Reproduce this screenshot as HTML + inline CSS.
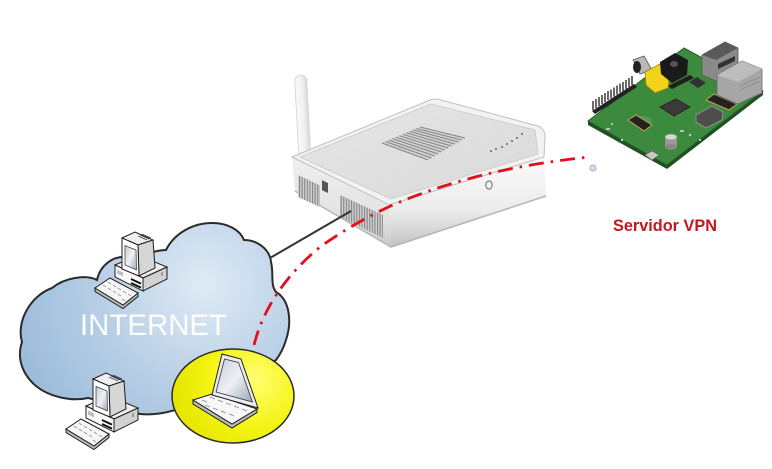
<!DOCTYPE html>
<html><head><meta charset="utf-8"><style>
html,body{margin:0;padding:0;background:#fff;}
svg{display:block;}
</style></head><body>
<svg width="772" height="469" viewBox="0 0 772 469" xmlns="http://www.w3.org/2000/svg">
<defs>
  <radialGradient id="cloudG" cx="205" cy="285" r="210" gradientUnits="userSpaceOnUse">
    <stop offset="0" stop-color="#e0ebf5"/>
    <stop offset="0.45" stop-color="#bbd1e7"/>
    <stop offset="1" stop-color="#98b9da"/>
  </radialGradient>
  <filter id="blur6" x="-50%" y="-50%" width="200%" height="200%"><feGaussianBlur stdDeviation="6"/></filter>
  <radialGradient id="yel" cx="255" cy="380" r="80" gradientUnits="userSpaceOnUse">
    <stop offset="0" stop-color="#ffff70"/>
    <stop offset="0.6" stop-color="#f4f414"/>
    <stop offset="1" stop-color="#e6e600"/>
  </radialGradient>
  <linearGradient id="scr" x1="0" y1="0" x2="1" y2="1">
    <stop offset="0" stop-color="#c4ccd6"/>
    <stop offset="0.5" stop-color="#eef1f5"/>
    <stop offset="1" stop-color="#9aa6b4"/>
  </linearGradient>
  <linearGradient id="ant" x1="0" y1="0" x2="1" y2="0">
    <stop offset="0" stop-color="#fafafa"/>
    <stop offset="0.6" stop-color="#f0f0f0"/>
    <stop offset="1" stop-color="#d8d8d8"/>
  </linearGradient>
  <linearGradient id="faceL" x1="0" y1="0" x2="0" y2="1">
    <stop offset="0" stop-color="#efefef"/>
    <stop offset="0.7" stop-color="#e2e2e2"/>
    <stop offset="1" stop-color="#c8c8c8"/>
  </linearGradient>
  <linearGradient id="faceR" x1="0" y1="0" x2="0" y2="1">
    <stop offset="0" stop-color="#fafafa"/>
    <stop offset="0.6" stop-color="#ececec"/>
    <stop offset="1" stop-color="#c2c2c2"/>
  </linearGradient>
  <linearGradient id="topG" x1="0" y1="0" x2="1" y2="1">
    <stop offset="0" stop-color="#e6e6e6"/>
    <stop offset="1" stop-color="#d9d9d9"/>
  </linearGradient>
  <pattern id="vent" width="2.6" height="10" patternUnits="userSpaceOnUse">
    <rect width="2.6" height="10" fill="#d0d0d0"/>
    <rect width="1.1" height="10" fill="#858585"/>
  </pattern>
  <g id="pc">
    <polygon points="95,288 123,305 138,293 138,296.5 123,308.5 95,291.5" fill="#bdbdbd" stroke="#1e1e1e" stroke-width="1"/>
    <polygon points="95,288 110,278 138,293 123,305" fill="#f6f6f6" stroke="#1e1e1e" stroke-width="1"/>
    <path d="M103,285 l3,2 M108,282 l3,2 M113,285 l3,2 M108,288 l3,2 M118,288 l3,2 M113,291 l3,2 M123,291 l3,2 M118,294 l3,2 M128,294 l3,2 M122,299 l3,2" stroke="#9a9a9a" stroke-width="1"/>
    <polygon points="115,265 138,255 167,267 143,278" fill="#efefef" stroke="#1e1e1e" stroke-width="1"/>
    <polygon points="115,265 143,278 143,291 115,277" fill="#fafafa" stroke="#1e1e1e" stroke-width="1"/>
    <polygon points="143,278 167,267 167,279 143,291" fill="#d2d2d2" stroke="#1e1e1e" stroke-width="1"/>
    <path d="M131,279 l10,4.6 M131,283 l10,4.6" stroke="#111" stroke-width="2"/>
    <path d="M118,270 l0,4 M120,271 l0,4 M122,272 l0,4" stroke="#666" stroke-width="0.8"/>
    <path d="M162,272 l0,4" stroke="#888" stroke-width="1.5"/>
    <polygon points="122,238 135,232 153,240 138,245" fill="#efefef" stroke="#1e1e1e" stroke-width="1"/>
    <path d="M138,236 l9,4 M140,235 l9,4 M142,234 l9,4" stroke="#444" stroke-width="0.9"/>
    <polygon points="138,245 153,240 155,268 139,276" fill="#d6d6d6" stroke="#1e1e1e" stroke-width="1"/>
    <polygon points="122,238 138,245 139,276 122,269" fill="#fff" stroke="#1e1e1e" stroke-width="1"/>
    <polygon points="125,245.5 136,250 136.5,270 125,265" fill="url(#scr)" stroke="#333" stroke-width="0.7"/>
  </g>
</defs>

<rect width="772" height="469" fill="#fff"/>

<path id="cloud" d="M22,342 C16,322 30,296 52,288 C64,278 86,274 97,280 C100,266 112,256 126,257 C140,258 152,250 166,250 C174,234 192,223 212,223 C228,223 240,230 244,240 C258,240 270,250 271,262 C274,274 270,284 276,292 C290,300 292,322 286,340 C283,350 279,356 276,360 L200,400 C180,410 160,416 140,414 C120,412 100,400 88,398 C70,402 48,396 36,386 C24,376 16,360 22,342 Z" fill="url(#cloudG)"/>
<clipPath id="cc"><use href="#cloud"/></clipPath>
<g clip-path="url(#cc)">
  <ellipse cx="100" cy="343" rx="78" ry="17" fill="#84a9cf" opacity="0.8" filter="url(#blur6)"/>
  <ellipse cx="205" cy="345" rx="32" ry="11" fill="#88add2" opacity="0.75" filter="url(#blur6)"/>
  <ellipse cx="38" cy="320" rx="14" ry="30" fill="#98b8da" opacity="0.6" filter="url(#blur6)"/>
  <ellipse cx="215" cy="285" rx="45" ry="30" fill="#e6eef6" opacity="0.6" filter="url(#blur6)"/>
  <ellipse cx="110" cy="385" rx="60" ry="12" fill="#cddcec" opacity="0.7" filter="url(#blur6)"/>
</g>
<use href="#cloud" fill="none" stroke="#2a2a2a" stroke-width="2"/>

<text x="80" y="335" font-family="Liberation Sans, sans-serif" font-size="30" fill="#ffffff" textLength="147" lengthAdjust="spacingAndGlyphs" opacity="0.97">INTERNET</text>

<use href="#pc"/>
<use href="#pc" transform="translate(-29,141)"/>

<ellipse cx="233" cy="396" rx="61" ry="47" fill="url(#yel)" stroke="#2a2a2a" stroke-width="1.5"/>
<polygon points="193,400 232,424 257,409 257,412.5 232,428 193,404" fill="#bcbcbc" stroke="#1e1e1e" stroke-width="1"/>
<polygon points="193,400 212,394 257,409 232,424" fill="#f8f8f8" stroke="#1e1e1e" stroke-width="1"/>
<path d="M202,400 l5,2 M210,397 l5,2 M218,400 l5,2 M226,403 l5,2 M234,406 l5,2 M242,409 l5,2 M205,405 l5,2 M213,408 l5,2 M221,411 l5,2 M229,414 l5,2" stroke="#a0a0a0" stroke-width="1"/>
<polygon points="222,354 241,359 258,408 212,395" fill="#ececec" stroke="#1e1e1e" stroke-width="1"/>
<polygon points="224.5,359 238.5,362.5 252.5,402 216,392" fill="url(#scr)" stroke="#333" stroke-width="0.8"/>

<!-- ROUTER -->
<rect x="299" y="75" width="12" height="88" rx="6" fill="url(#ant)" stroke="#d2d2d2" stroke-width="0.8" transform="rotate(-3 305 161)"/>
<polygon points="292,157 390,204 391,247 295,191" fill="url(#faceL)"/>
<polygon points="390,204 544,157 546,196 391,247" fill="url(#faceR)"/>
<path d="M295,191 L391,247 L546,196" fill="none" stroke="#b5b5b5" stroke-width="1.5"/>
<polygon points="298,175 320,185.5 320,207 298,197" fill="url(#vent)"/>
<polygon points="340,195 383,215 383,238 340,217" fill="url(#vent)"/>
<rect x="322" y="181" width="6" height="10" fill="#555" transform="skewY(25) translate(0,-151)"/>
<path d="M292,157 L430,100 Q435,98 441,100 L538,126 Q546,130 545,138 L544,157 L392,204 Q389,205.5 386,203 Z" fill="#f2f2f2" stroke="#c0c0c0" stroke-width="1"/>
<path d="M300,157 L431,104 L535,130 L538,154 L391,199 Z" fill="url(#topG)" stroke="#c8c8c8" stroke-width="0.8"/>
<polygon points="382,143 420,127 465,138 428,160" fill="#d2d2d2"/>
<path d="M382,143 L428,160 M385.5,141.5 L431.4,158 M388.9,140.1 L434.7,156 M392.4,138.6 L438.1,154 M395.8,137.2 L441.5,152 M399.3,135.7 L444.8,150 M402.7,134.3 L448.2,148 M406.2,132.8 L451.5,146 M409.6,131.4 L454.9,144 M413.1,129.9 L458.3,142 M416.5,128.5 L461.6,140 M420,127 L465,138" stroke="#858585" stroke-width="1"/>
<g fill="#666">
  <circle cx="491" cy="151" r="1"/><circle cx="496" cy="149" r="1"/><circle cx="502" cy="147" r="1"/>
  <circle cx="507" cy="144" r="1"/><circle cx="512" cy="141" r="1"/><circle cx="517" cy="138" r="1"/><circle cx="522" cy="134" r="1"/>
</g>
<ellipse cx="489" cy="185" rx="3.2" ry="4" fill="none" stroke="#7a7a7a" stroke-width="1.2"/>

<line x1="351" y1="211" x2="270" y2="258" stroke="#333" stroke-width="2"/>

<!-- RASPBERRY PI -->
<polygon points="588,121 667,165 763,91 763,95 667,169 588,125" fill="#1f4f22"/>
<polygon points="588,121 684,48 763,91 667,165" fill="#3b8a3e" stroke="#275f2a" stroke-width="1"/>
<ellipse cx="643" cy="121" rx="9" ry="5" fill="#5ea35f" opacity="0.7"/>
<circle cx="622" cy="140" r="1.2" fill="#c8c8c8"/><circle cx="690" cy="135" r="1.2" fill="#c8c8c8"/>
<circle cx="612" cy="124" r="1" fill="#ddd"/><circle cx="700" cy="140" r="1" fill="#ddd"/>
<rect x="606" y="128" width="4" height="2" fill="#bbb"/><rect x="680" y="130" width="4" height="2" fill="#bbb"/>
<polygon points="592,111 634,84 637,87 595,114" fill="#222"/>
<path d="M593 110V101M596 108V99M599 106V97M602 104V95M605 102V93M608 100V91M611 98.5V89.5M614 96.5V87.5M617 94.5V85.5M620 92.5V83.5M623 91V82M626 89V80M629 87V78M632 85V76" stroke="#2a2a2a" stroke-width="1.4"/>
<polygon points="628,120 636,115 652,125 644,131" fill="#222" stroke="#c8a050" stroke-width="1"/>
<polygon points="706,100 714,94 737,104 729,110" fill="#222" stroke="#c8a050" stroke-width="1"/>
<polygon points="668,86 690,75 694,78 672,89" fill="#1e1e1e"/>
<polygon points="660,107 676,99 690,107 674,116" fill="#3a3a3a" stroke="#222" stroke-width="0.8"/>
<polygon points="689,82 697,77 706,83 698,88" fill="#333"/>
<polygon points="696,115 712,106 723,112 722,120 706,128 696,122" fill="#4e4e4e" stroke="#999" stroke-width="0.8"/>
<polygon points="633,60 644,56 652,70 640,74" fill="#b8b8b8" stroke="#555" stroke-width="0.8"/>
<ellipse cx="637" cy="67" rx="4" ry="6" fill="#222"/>
<polygon points="645,72 660,64 670,72 668,88 655,93 646,85" fill="#f2d31c" stroke="#9a8000" stroke-width="0.8"/>
<polygon points="660,62 675,53 688,60 687,75 672,83 661,74" fill="#1a1a1a"/>
<ellipse cx="674" cy="64" rx="4" ry="3" fill="#555"/>
<polygon points="702,55 725,42 738,48 738,72 716,81 702,75" fill="#8a8a8a" stroke="#555" stroke-width="0.8"/>
<polygon points="702,55 725,42 738,48 716,60" fill="#5a5a5a"/>
<polygon points="718,64 735,56 735,61 718,69" fill="#333"/>
<polygon points="717,75 742,61 762,69 762,93 738,104 717,95" fill="#a6a6a6" stroke="#666" stroke-width="0.8"/>
<polygon points="717,75 742,61 762,69 738,82" fill="#bdbdbd"/>
<path d="M740,86 l20,-9 M740,90 l20,-9" stroke="#8a8a8a" stroke-width="0.8"/>
<rect x="665" y="137" width="12" height="10" fill="#9a9a9a"/>
<ellipse cx="671" cy="147" rx="6" ry="3" fill="#888"/>
<ellipse cx="671" cy="137" rx="6" ry="3" fill="#d6d6d6" stroke="#888" stroke-width="0.6"/>
<polygon points="645,155 652,151 659,155 652,160" fill="#c8c8c8" stroke="#666" stroke-width="0.6"/>

<path d="M254,345 Q268,290 320,247 Q355,222 395,204 Q480,168 590,157" fill="none" stroke="#e3101b" stroke-width="2.8" stroke-dasharray="15 7 2.5 7"/>
<circle cx="593" cy="168" r="3" fill="#dcdcec" stroke="#9a9aaa" stroke-width="0.8"/>

<text x="613" y="231" font-family="Liberation Sans, sans-serif" font-weight="bold" font-size="16.5" fill="#c3171d" textLength="104" lengthAdjust="spacingAndGlyphs">Servidor VPN</text>
</svg>
</body></html>
